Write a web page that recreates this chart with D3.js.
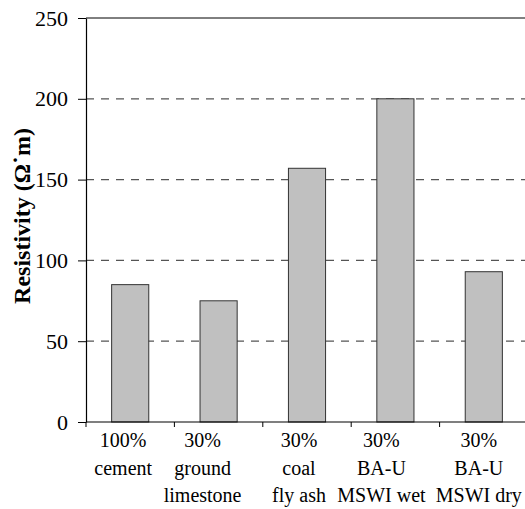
<!DOCTYPE html>
<html>
<head>
<meta charset="utf-8">
<script src="https://cdn.jsdelivr.net/npm/d3@7"></script>
<style>
  body { margin: 0; background: #fff; }
</style>
</head>
<body>
<div id="plot"></div>
<script>
// data
const lines1 = ["100%", "30%", "30%", "30%", "30%"];
const lines2 = ["cement", "ground", "coal", "BA-U", "BA-U"];
const lines3 = ["", "limestone", "fly ash", "MSWI wet", "MSWI dry"];
const resistivity = [85, 75, 157, 200, 93];
const yTicks = [0, 50, 100, 150, 200, 250];

const serif = "Liberation Serif";

function barPlot() {
  const width = 525;
  const height = 509;
  const margin = { top: 18, right: -3, bottom: 87, left: 86 };
  const innerW = width - margin.left - margin.right;
  const innerH = height - margin.top - margin.bottom;
  // label nudges, the source wraps its category text unevenly
  const labelShift = [-7, -16, -8, -14, -5];

  const svg = d3.select("#plot")
    .append("svg")
    .attr("width", width)
    .attr("height", height)
    .style("font-family", serif);

  const g = svg.append("g")
    .attr("transform", `translate(${margin.left},${margin.top})`);

  const x = d3.scaleBand()
    .domain(d3.range(resistivity.length))
    .range([0, innerW])
    .paddingInner(0.58)
    .paddingOuter(0.29);

  const y = d3.scaleLinear()
    .domain([0, 250])
    .range([innerH, 0]);

  // gridlines
  g.selectAll(".grid")
    .data(yTicks.filter(d => d > 0 && d < 250))
    .enter()
    .append("line")
    .attr("x1", 0)
    .attr("x2", innerW)
    .attr("y1", d => y(d))
    .attr("y2", d => y(d))
    .attr("stroke", "#555")
    .attr("stroke-width", 1.2)
    .attr("stroke-dasharray", "8,7");

  g.append("line")
    .attr("x1", 0)
    .attr("x2", innerW)
    .attr("y1", y(250))
    .attr("y2", y(250))
    .attr("stroke", "#000")
    .attr("stroke-width", 1);

  // bars
  g.selectAll("rect")
    .data(resistivity)
    .enter()
    .append("rect")
    .attr("x", (d, i) => x(i))
    .attr("y", d => y(d))
    .attr("width", x.bandwidth())
    .attr("height", d => innerH - y(d))
    .attr("fill", "#c0c0c0")
    .attr("stroke", "#333")
    .attr("stroke-width", 1);

  // y axis
  const yAxis = g.append("g")
    .call(d3.axisLeft(y).tickValues(yTicks).tickSize(8).tickPadding(10).tickSizeOuter(0));
  yAxis.select(".domain").attr("stroke", "#000").attr("stroke-width", 1.2);
  yAxis.selectAll(".tick line").attr("stroke", "#000");
  yAxis.selectAll(".tick text")
    .style("font-family", serif)
    .attr("font-size", 22)
    .attr("fill", "#000");

  // x axis: ticks between categories
  const xAxis = g.append("g")
    .attr("transform", `translate(0,${innerH})`);
  xAxis.append("line")
    .attr("x1", 0)
    .attr("x2", innerW)
    .attr("stroke", "#000")
    .attr("stroke-width", 1.2);
  xAxis.selectAll(".xtick")
    .data(d3.range(resistivity.length))
    .enter()
    .append("line")
    .attr("x1", i => x(i) - x.step() * x.paddingInner() / 2)
    .attr("x2", i => x(i) - x.step() * x.paddingInner() / 2)
    .attr("y1", 0)
    .attr("y2", 5)
    .attr("stroke", "#000");

  const labels = xAxis.selectAll(".xlabel")
    .data(d3.range(resistivity.length))
    .enter()
    .append("text")
    .attr("text-anchor", "middle")
    .attr("font-size", 20)
    .attr("fill", "#000")
    .attr("transform", i => `translate(${x(i) + x.bandwidth() / 2 + labelShift[i]},0)`);
  labels.append("tspan").attr("x", 0).attr("y", 25).text(i => lines1[i]);
  labels.append("tspan").attr("x", 0).attr("y", 53).text(i => lines2[i]);
  labels.append("tspan").attr("x", 0).attr("y", 80).text(i => lines3[i]);

  // y title
  const title = svg.append("text")
    .attr("transform", `translate(30,216) rotate(-90)`)
    .attr("text-anchor", "middle")
    .attr("font-size", 24)
    .attr("font-weight", "bold")
    .attr("fill", "#000");
  title.append("tspan").text("Resistivity (Ω");
  title.append("tspan").text("˙");
  title.append("tspan").text("m)");
}

barPlot();
</script>
</body>
</html>
